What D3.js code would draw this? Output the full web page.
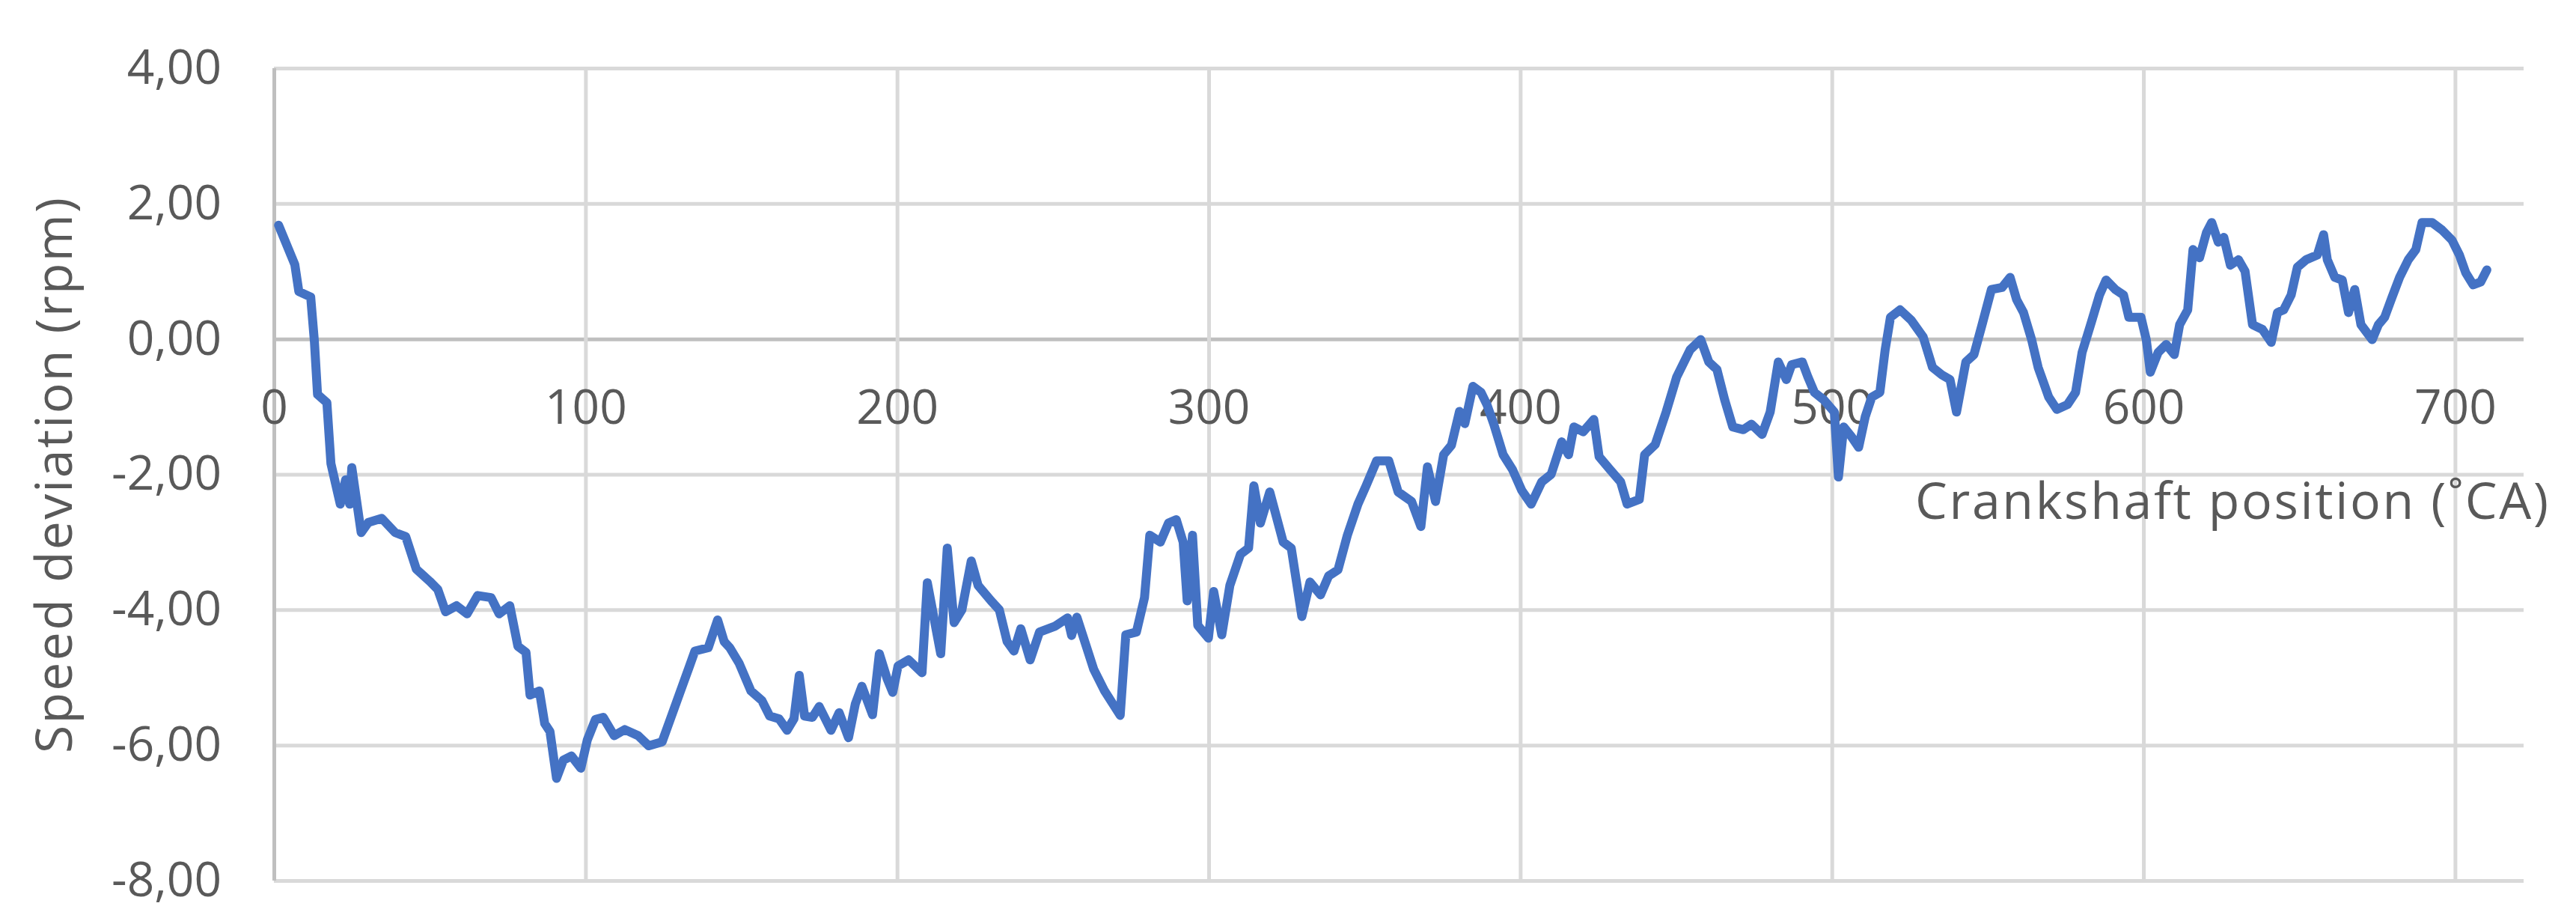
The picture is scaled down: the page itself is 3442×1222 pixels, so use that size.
<!DOCTYPE html>
<html>
<head>
<meta charset="utf-8">
<script src="https://cdn.jsdelivr.net/npm/d3@7"></script>
<style>
  body { margin: 0; background: #fff; }
  svg { display: block; }
  text { font-family: "Open Sans", "DejaVu Sans", sans-serif; }
  .tick text { fill: #595959; }
  .axis-title { fill: #595959; }
</style>
</head>
<body>
<div id="chart"></div>
<script>
// crankshaft position (deg CA)
const angle = [
  1.5, 6.7, 8, 11.8, 13, 14, 17, 18.3, 21.3, 23, 24.3, 25, 28, 30.3, 34.6, 38.9,
  42.3, 45.7, 50, 52.6, 55.1, 58.6, 62, 65.4, 69.7, 72.3, 75.7, 78.3, 80.9, 82.2,
  85.2, 86.9, 88.6, 90.7, 92.9, 95.5, 98.5, 100.6, 103.2, 105.7, 109.2, 112.6,
  116.9, 120.3, 124.6, 127.2,
  130.8, 133.4, 135.1, 139.4, 142.4, 144.5, 146.3, 149.3, 153.1, 156.6, 159.1,
  162.1, 164.7, 166.9, 168.6, 170.3, 172.8, 175, 178.8, 181.4, 184.4, 186.6,
  188.7, 192.1, 194.3, 196.8, 198.6, 200.3, 203.7, 208, 209.7, 214, 216.1,
  218.3, 220.8, 223.8, 226, 230.2, 232.8, 235.3, 237.5, 239.7, 242.7, 245.7,
  250.8, 254.7, 256, 257.7,
  260.5, 263.1, 266.6, 269.1, 271.6, 273.4, 276.8, 279.4, 281.1, 284.5, 287.1,
  289.6, 291.8, 293.1, 294.8, 296.5, 299.9, 301.6, 304.2, 306.8, 310.2, 312.8,
  314.5, 316.6, 319.6, 323.9, 326.5, 329.9, 332.5, 335.9, 338.5, 341.5, 344.5,
  347.9, 350.5, 353.9, 357.8, 360.8, 365.1, 368.1, 370.2, 372.8, 375.4, 377.9,
  380.5, 382.2, 384.8, 387.4,
  389.3, 391.5, 394.5, 397.5, 400.5, 403.5, 406.9, 409.9, 413.3, 415.5, 417.2,
  420.2, 423.6, 425.3, 428.8, 432.2, 434.3, 438.2, 439.9, 443.3, 446.8, 450.2,
  454.5, 457.9, 460.5, 463.1, 465.6, 468.2, 471.6, 474.2, 477.6, 480.2, 482.8,
  485.4, 487.1, 490.5, 492.3, 494.4, 497.4, 500.8, 502.1, 503.8, 506.4, 508.6,
  510.7, 512.8, 515.4, 517.1, 518.8,
  521.9, 525.4, 529.3, 532.3, 535.3, 537.9, 540, 543, 545.6, 548.2, 551.2,
  554.6, 557.2, 559.3, 561.5, 564.1, 566.2, 569.6, 572.2, 575.6, 578.2, 580.3,
  583.3, 585.9, 588, 591, 593.6, 595.3, 599.2, 600.9, 602.2, 604.7, 607.3,
  609.9, 611.6, 614.2, 615.9, 618, 620.2, 621.9, 624, 625.8, 627.9, 630.5,
  632.6, 635, 638.2, 641, 643, 645, 647.4, 649.4, 652.2, 655.8, 657.8, 659,
  661.4, 663.8, 665.8, 667.8, 669.8, 673.4, 675.4, 677.4, 679.8, 682.2, 685,
  687.4, 689.4, 692.6, 695.8, 699, 701.4, 703.4, 705.8, 708.2, 710.2
];

// speed deviation (rpm), same order as angle
const deviation = [
  1.68, 1.1, 0.7, 0.62, -0.04, -0.82, -0.94, -1.84, -2.44, -2.08, -2.44, -1.9,
  -2.86, -2.71, -2.65, -2.86, -2.92, -3.4, -3.58, -3.7, -4.03, -3.94, -4.06,
  -3.79, -3.82, -4.06, -3.94, -4.54, -4.63, -5.26, -5.2, -5.68, -5.8, -6.49,
  -6.22, -6.16, -6.34, -5.92, -5.62, -5.59, -5.86, -5.77, -5.86, -6.01, -5.95,
  -5.62,
  -5.16, -4.83, -4.61, -4.56, -4.15, -4.47, -4.56, -4.79, -5.2, -5.34, -5.57,
  -5.61, -5.78, -5.61, -4.97, -5.57, -5.59, -5.43, -5.78, -5.52, -5.89, -5.39,
  -5.13, -5.55, -4.65, -5.02, -5.22, -4.83, -4.74, -4.93, -3.6, -4.65, -3.09,
  -4.19, -4.0, -3.28, -3.64, -3.87, -4.0, -4.47, -4.61, -4.28, -4.74, -4.33,
  -4.24, -4.12, -4.38, -4.11,
  -4.51, -4.88, -5.2, -5.38, -5.56, -4.37, -4.33, -3.82, -2.9, -3.0, -2.72,
  -2.67, -3.0, -3.87, -2.9, -4.23, -4.42, -3.73, -4.37, -3.64, -3.18, -3.09,
  -2.17, -2.72, -2.26, -3.0, -3.09, -4.1, -3.59, -3.78, -3.5, -3.41, -2.9,
  -2.44, -2.17, -1.8, -1.8, -2.26, -2.4, -2.77, -1.89, -2.4, -1.71, -1.57,
  -1.07, -1.25, -0.7, -0.79,
  -0.97, -1.26, -1.71, -1.93, -2.24, -2.44, -2.11, -2.0, -1.52, -1.71, -1.3,
  -1.37, -1.19, -1.74, -1.93, -2.11, -2.44, -2.37, -1.71, -1.56, -1.08, -0.56,
  -0.16, -0.01, -0.34, -0.45, -0.9, -1.3, -1.34, -1.26, -1.41, -1.08, -0.34,
  -0.6, -0.38, -0.34, -0.56, -0.79, -0.9, -1.08, -2.04, -1.3, -1.45, -1.6,
  -1.15, -0.86, -0.79, -0.16, 0.32,
  0.43, 0.28, 0.03, -0.42, -0.53, -0.6, -1.08, -0.34, -0.23, 0.21, 0.73,
  0.76, 0.91, 0.58, 0.39, -0.01, -0.42, -0.86, -1.04, -0.97, -0.79, -0.2,
  0.25, 0.65, 0.87, 0.73, 0.65, 0.32, 0.32, -0.01, -0.49, -0.2, -0.08,
  -0.23, 0.21, 0.43, 1.32, 1.2, 1.57, 1.72, 1.43, 1.5, 1.09, 1.17,
  1.0, 0.21, 0.14, -0.05, 0.39, 0.43, 0.65, 1.06, 1.17, 1.24, 1.54, 1.17,
  0.91, 0.87, 0.39, 0.73, 0.21, -0.01, 0.21, 0.32, 0.62, 0.91, 1.17,
  1.32, 1.72, 1.72, 1.61, 1.46, 1.24, 0.98, 0.8, 0.84, 1.02
];

const xTicks = [0, 100, 200, 300, 400, 500, 600, 700];
const yTicks = [-8, -6, -4, -2, 0, 2, 4];
const xTitle = "Crankshaft position (˚CA)";
const yTitle = "Speed deviation (rpm)";

const fullWidth = 3442,
  fullHeight = 1222;
const margin = { top: 91, right: 70, bottom: 46, left: 366 },
  width = fullWidth - margin.left - margin.right,
  height = fullHeight - margin.top - margin.bottom;

const data = angle.map((a, i) => ({ a: a, v: deviation[i] }));

const svg = d3
  .select("#chart")
  .append("svg")
  .attr("width", fullWidth)
  .attr("height", fullHeight);

const g = svg
  .append("g")
  .attr("transform", `translate(${margin.left},${margin.top})`);

const x = d3.scaleLinear().domain([0, 722]).range([0, width]);
const y = d3.scaleLinear().domain([-8, 4]).range([height, 0]);

const commaFmt = d3.formatLocale({
  decimal: ",",
  thousands: ".",
  grouping: [3],
  currency: ["", ""],
  minus: "-"
}).format(".2f");

// horizontal gridlines + y labels
const yAxis = g
  .append("g")
  .attr("class", "axis")
  .call(
    d3.axisLeft(y)
      .tickValues(yTicks)
      .tickSize(-width)
      .tickPadding(70)
      .tickFormat(commaFmt)
  );
yAxis.select(".domain").remove();
yAxis
  .selectAll(".tick line")
  .attr("stroke", (d) => (d === 0 ? "#bfbfbf" : "#d9d9d9"))
  .attr("stroke-width", 5);
yAxis.selectAll(".tick text").style("font-size", "64px");

// vertical gridlines
const xGrid = g
  .append("g")
  .attr("class", "axis")
  .call(d3.axisBottom(x).tickValues(xTicks).tickSize(height).tickFormat(""));
xGrid.select(".domain").remove();
xGrid
  .selectAll(".tick line")
  .attr("stroke", (d) => (d === 0 ? "#bfbfbf" : "#d9d9d9"))
  .attr("stroke-width", 5);

// x labels hang below the zero line
const xAxis = g
  .append("g")
  .attr("class", "axis")
  .attr("transform", `translate(0,${y(0)})`)
  .call(d3.axisBottom(x).tickValues(xTicks).tickSize(0).tickPadding(68));
xAxis.select(".domain").remove();
xAxis.selectAll(".tick text").style("font-size", "64px");

const line = d3
  .line()
  .x((d) => x(d.a))
  .y((d) => y(d.v));

g.append("path")
  .datum(data)
  .attr("fill", "none")
  .attr("stroke", "#4472C4")
  .attr("stroke-width", 12)
  .attr("stroke-linejoin", "round")
  .attr("stroke-linecap", "round")
  .attr("d", line);

// axis titles
svg
  .append("text")
  .attr("class", "axis-title")
  .attr("text-anchor", "end")
  .attr("x", 3405)
  .attr("y", 693)
  .style("font-size", "68px")
  .attr("textLength", 846)
  .attr("lengthAdjust", "spacing")
  .text(xTitle);

svg
  .append("text")
  .attr("class", "axis-title")
  .attr("text-anchor", "middle")
  .attr("transform", "translate(96,635) rotate(-90)")
  .style("font-size", "68px")
  .attr("textLength", 742)
  .attr("lengthAdjust", "spacing")
  .text(yTitle);
</script>
</body>
</html>
